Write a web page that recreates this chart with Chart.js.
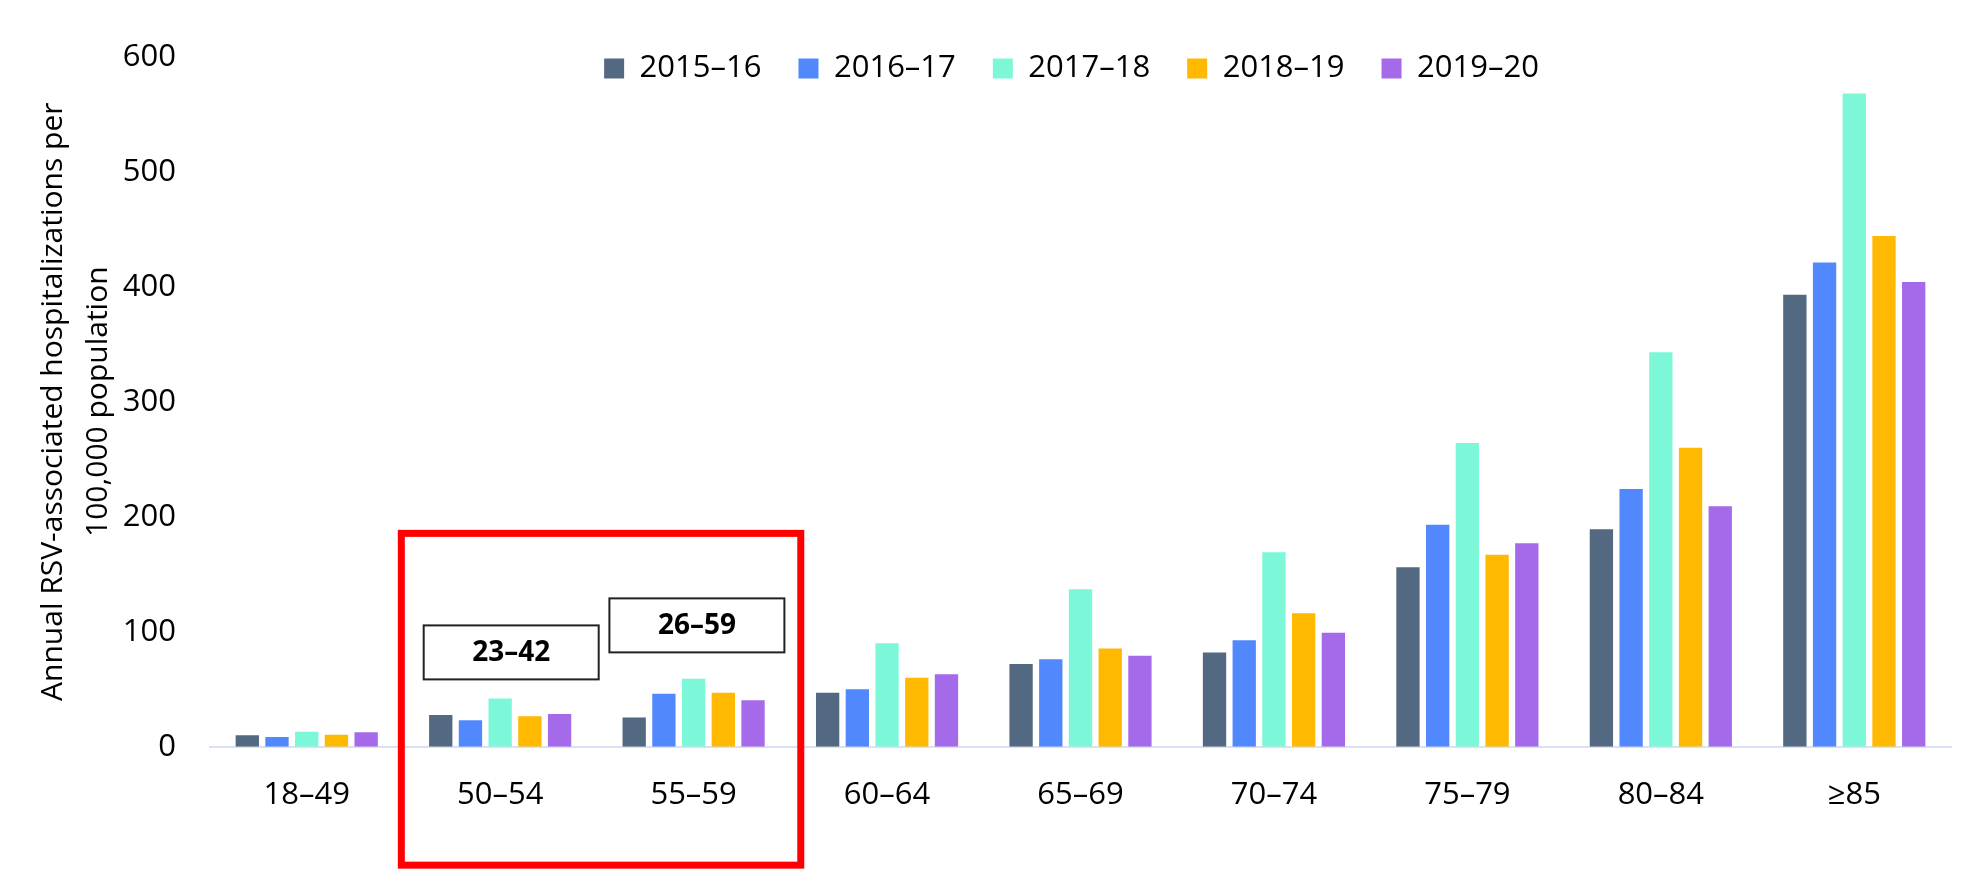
<!DOCTYPE html>
<html>
<head>
<meta charset="utf-8">
<script src="https://cdn.jsdelivr.net/npm/chart.js@4.4.1/dist/chart.umd.min.js"></script>
<style>
  html, body { margin: 0; padding: 0; background: #fff; }
  #wrap { width: 1976px; height: 871px; position: relative; }
</style>
</head>
<body>
<div id="wrap"><canvas id="chart"></canvas></div>
<script>
const ageGroups = ['18–49', '50–54', '55–59', '60–64', '65–69', '70–74', '75–79', '80–84', '≥85'];
const seasons = ['2015–16', '2016–17', '2017–18', '2018–19', '2019–20'];
const rates2015 = [10, 27.5, 25.5, 47, 72, 82, 156, 189, 393];
const rates2016 = [8.5, 23, 46, 50, 76, 92.5, 193, 224, 421];
const rates2017 = [13, 42, 59, 90, 137, 169, 264, 343, 568];
const rates2018 = [10.5, 26.5, 47, 60, 85.5, 116, 167, 260, 444];
const rates2019 = [12.5, 28.5, 40.5, 63, 79, 99, 177, 209, 404];
const seasonColors = ['#536981', '#5288fd', '#7cf8d9', '#ffb900', '#a56ae9'];
const yTicks = [0, 100, 200, 300, 400, 500, 600];
const rangeGroups = ['50–54', '55–59'];
const rangeLabels = ['23–42', '26–59'];

const FONT = '"Open Sans", "Noto Sans", sans-serif';
const series = [rates2015, rates2016, rates2017, rates2018, rates2019];

// boxes with ranges + the red highlight around 50-59
const highlightPlugin = {
  id: 'highlight',
  afterLayout(chart) {
    const lg = chart.legend;
    lg.left += 96; lg.right += 96;
    lg.top += 16; lg.bottom = lg.top + 100;
  },
  afterDraw(chart) {
    const ctx = chart.ctx;
    const x = chart.scales.x, y = chart.scales.y;
    ctx.save();
    // range boxes
    const anchors = [[1.057, 82], [2.017, 105.5]];
    rangeLabels.forEach((txt, i) => {
      const idx = ageGroups.indexOf(rangeGroups[i]);
      const cx = x.getPixelForValue(idx + anchors[i][0] - Math.round(anchors[i][0]));
      const cy = y.getPixelForValue(anchors[i][1]);
      const w = 175, h = 54;
      ctx.fillStyle = '#fff';
      ctx.fillRect(cx - w / 2, cy - h / 2, w, h);
      ctx.strokeStyle = '#222';
      ctx.lineWidth = 2;
      ctx.strokeRect(cx - w / 2, cy - h / 2, w, h);
      ctx.fillStyle = '#000';
      ctx.font = 'bold 28px ' + FONT;
      ctx.textAlign = 'center';
      ctx.textBaseline = 'middle';
      ctx.fillText(txt, cx, cy + 1);
    });
    // red rectangle
    const left = x.getPixelForValue(0.489);
    const right = x.getPixelForValue(2.554);
    const top = y.getPixelForValue(185.5);
    const bottom = y.getPixelForValue(-103);
    ctx.strokeStyle = '#ff0000';
    ctx.lineWidth = 7;
    ctx.strokeRect(left, top, right - left, bottom - top);
    ctx.restore();
  }
};

new Chart(document.getElementById('chart'), {
  type: 'bar',
  data: {
    labels: ageGroups,
    datasets: seasons.map((s, i) => ({
      label: s,
      data: series[i],
      backgroundColor: seasonColors[i],
      borderWidth: 0,
      categoryPercentage: 0.768,
      barPercentage: 0.785
    }))
  },
  options: {
    responsive: true,
    maintainAspectRatio: false,
    animation: false,
    layout: { padding: { left: 0, right: 25, top: 0, bottom: 0 } },
    plugins: {
      legend: {
        position: 'top',
        maxHeight: 56.7,
        labels: {
          boxWidth: 20,
          boxHeight: 20,
          padding: 37,
          color: '#000',
          font: { family: FONT, size: 31 }
        }
      },
      tooltip: { enabled: false }
    },
    scales: {
      x: {
        grid: { display: false, drawTicks: false },
        border: { display: true, color: '#d9e2f4', width: 2 },
        ticks: { color: '#000', padding: 30, font: { family: FONT, size: 31 } },
        afterFit(scale) { scale.height = 124.3; }
      },
      y: {
        min: 0,
        max: 600,
        afterBuildTicks(scale) { scale.ticks = yTicks.map(v => ({ value: v })); },
        grid: { display: false, drawTicks: false },
        border: { display: false },
        ticks: { color: '#000', padding: 34, font: { family: FONT, size: 31 } },
        title: {
          display: true,
          text: ['Annual RSV-associated hospitalizations per', '100,000 population'],
          color: '#000',
          font: { family: FONT, size: 30, lineHeight: 1.5 },
          padding: { top: 30.5, bottom: 0 }
        },
        afterFit(scale) { scale.width = 210; }
      }
    }
  },
  plugins: [highlightPlugin]
});
</script>
</body>
</html>
